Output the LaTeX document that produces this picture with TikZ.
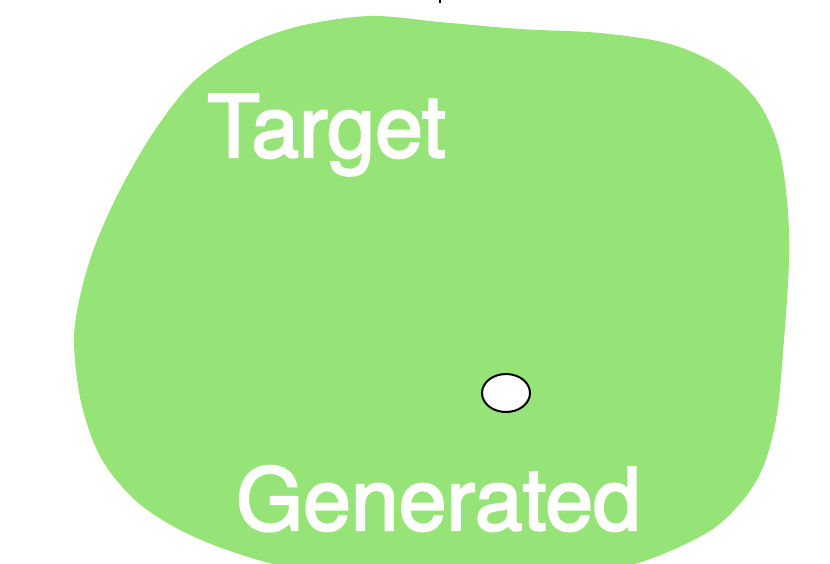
\documentclass[tikz,border=0pt]{standalone}
\usepackage{fontspec}
\setmainfont{TeX Gyre Heros}
\newfontfamily\labelfont[FakeBold=2.5]{TeX Gyre Heros}
\usepackage{tikz}
\usetikzlibrary{shapes.geometric}

\definecolor{blobgreen}{RGB}{150,228,119}

\begin{document}
\begin{tikzpicture}[x=1pt,y=-1pt,
    label/.style={text=white, font=\labelfont\fontsize{86}{86}\selectfont, inner sep=0pt, anchor=base west}]

   \useasboundingbox (0,0) rectangle (830,563);
   \clip (0,0) rectangle (830,563);

   \fill[blobgreen] plot[smooth cycle, tension=0.55] coordinates {
      (300,26) (370,16) (440,22) (520,29) (600,33) (670,44) (723,68)
      (758,102) (778,145) (787,200) (789,260) (784,340) (776,420) (758,478)
      (722,522) (677,548) (620,568) (540,579) (450,581) (360,577)
      (290,568) (230,551) (180,530) (136,501) (101,458) (81,402)
      (74,340) (81,292) (96,243) (120,190) (153,133) (193,82) (245,46)};

   \node[label] (target) at (207,157) {Target};
   \node[label] (generated) at (236,530) {Generated};

   \node[draw=black, line width=2pt, fill=white, ellipse, minimum width=48pt,
         minimum height=38pt, inner sep=0pt] (sample) at (506,393) {};

   \draw[line width=1.2pt] (440,0) -- (440,3);
  \end{tikzpicture}
\end{document}
